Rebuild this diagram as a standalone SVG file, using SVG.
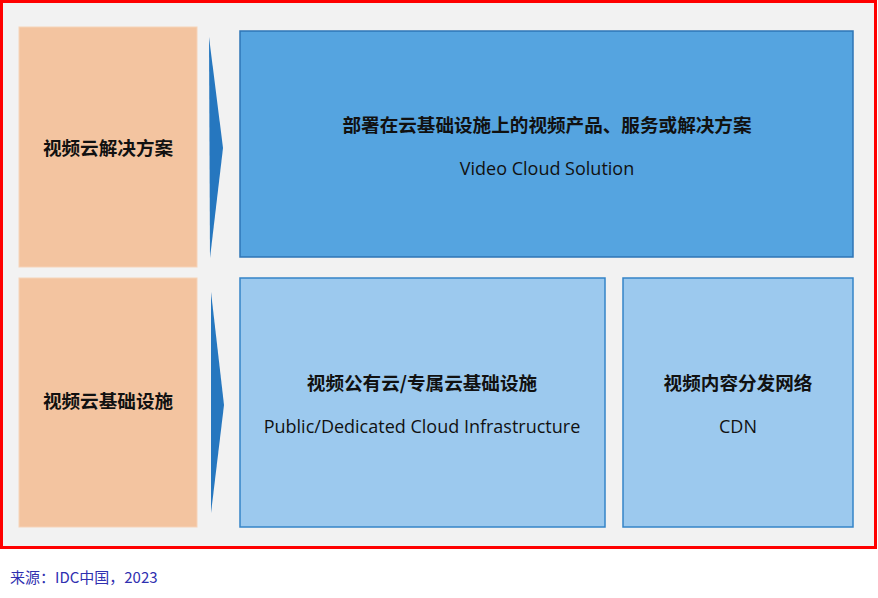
<svg xmlns="http://www.w3.org/2000/svg" width="878" height="598" viewBox="0 0 878 598">
<defs>
<style>
.lbl{fill:#f3c4a0;stroke:#f6d3b8;stroke-width:1}
.top{fill:#55a4e0;stroke:#2e75b6;stroke-width:1.5}
.bot{fill:#9cc9ee;stroke:#3484c8;stroke-width:1.5}
.arr{fill:#2677bf}
.zh{font-family:"Noto Sans CJK SC","Noto Sans",sans-serif;font-weight:bold;font-size:18.6px;fill:#111;text-anchor:middle}
.en{font-family:"Open Sans","Noto Sans",sans-serif;font-size:18px;fill:#111;text-anchor:middle}
.src{font-family:"Noto Sans CJK SC","Noto Sans",sans-serif;font-size:15px;fill:#3030b0}
</style>
</defs>
<rect x="1.5" y="1.5" width="874" height="546" fill="#f2f2f2" stroke="#ff0000" stroke-width="3"/>
<g id="connectors">
<polygon class="arr" points="209,37 223,148 210,258"/>
<polygon class="arr" points="211,292 224,405 211,513"/>
</g>
<g id="label-solution">
<rect class="lbl" x="19" y="27" width="178" height="240"/>
<text class="zh" x="108" y="155">视频云解决方案</text>
</g>
<g id="label-infra">
<rect class="lbl" x="19" y="278" width="178" height="249"/>
<text class="zh" x="108" y="408">视频云基础设施</text>
</g>
<g id="solution">
<rect class="top" x="240" y="31" width="613" height="226"/>
<text class="zh" x="547" y="132">部署在云基础设施上的视频产品、服务或解决方案</text>
<text class="en" x="547" y="175">Video Cloud Solution</text>
</g>
<g id="cloud-infra">
<rect class="bot" x="240" y="278" width="365" height="249"/>
<text class="zh" x="422" y="390">视频公有云/专属云基础设施</text>
<text class="en" x="422" y="433">Public/Dedicated Cloud Infrastructure</text>
</g>
<g id="cdn">
<rect class="bot" x="623" y="278" width="230" height="249"/>
<text class="zh" x="738" y="390">视频内容分发网络</text>
<text class="en" x="738" y="433">CDN</text>
</g>
<text class="src" x="10" y="583">来源：IDC中国，2023</text>
</svg>
